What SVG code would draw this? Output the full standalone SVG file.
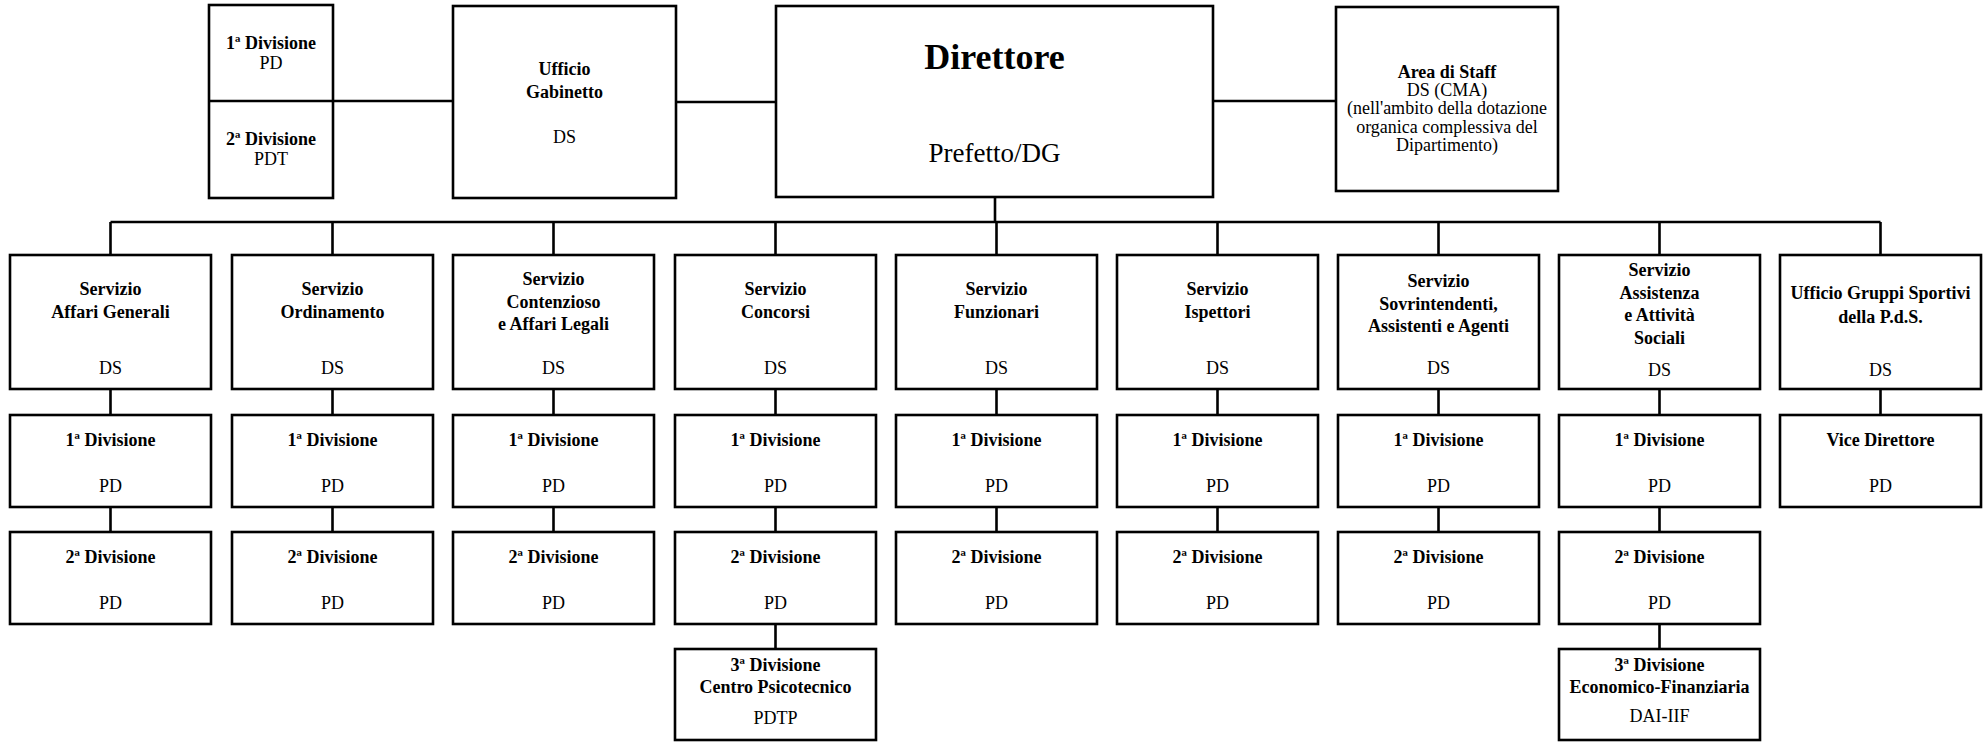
<svg xmlns="http://www.w3.org/2000/svg" width="1987" height="742" viewBox="0 0 1987 742">
<style>
.box{fill:#fff;stroke:#000;stroke-width:2.6}
.ln{stroke:#000;stroke-width:2.6;fill:none}
text{font-family:'Liberation Serif','DejaVu Serif',serif;fill:#000;text-anchor:middle}
.b{font-weight:bold;font-size:18px}
.r{font-size:18px}
</style>
<rect width="1987" height="742" fill="#fff"/>
<g id="connectors">
<path class="ln" d="M333 101H453M676 102H776M1213 101H1336"/>
<path class="ln" d="M995 197V222M110.5 222H1880.5"/>
<path class="ln" d="M110.5 222V255M332.5 222V255M553.5 222V255M775.5 222V255M996.5 222V255M1217.5 222V255M1438.5 222V255M1659.5 222V255M1880.5 222V255"/>
<path class="ln" d="M110.5 389V415M332.5 389V415M553.5 389V415M775.5 389V415M996.5 389V415M1217.5 389V415M1438.5 389V415M1659.5 389V415M1880.5 389V415"/>
<path class="ln" d="M110.5 507V532M332.5 507V532M553.5 507V532M775.5 507V532M996.5 507V532M1217.5 507V532M1438.5 507V532M1659.5 507V532"/>
<path class="ln" d="M775.5 624V649M1659.5 624V649"/>
</g>
<g id="top-divisioni">
<rect class="box" x="209" y="5" width="124" height="193"/>
<line class="ln" x1="209" y1="101" x2="333" y2="101"/>
<text class="b" x="271" y="49" font-family="Liberation Serif">1ª Divisione</text>
<text class="r" x="271" y="69">PD</text>
<text class="b" x="271" y="145">2ª Divisione</text>
<text class="r" x="271" y="165">PDT</text>
</g>
<g id="ufficio-gabinetto">
<rect class="box" x="453" y="6" width="223" height="192"/>
<text class="b" x="564.5" y="75">Ufficio</text>
<text class="b" x="564.5" y="98">Gabinetto</text>
<text class="r" x="564.5" y="143">DS</text>
</g>
<g id="direttore">
<rect class="box" x="776" y="6" width="437" height="191"/>
<text x="994.5" y="69" style="font-weight:bold;font-size:36px">Direttore</text>
<text x="994.5" y="162" style="font-size:27px">Prefetto/DG</text>
</g>
<g id="area-staff">
<rect class="box" x="1336" y="7" width="222" height="184"/>
<text class="b" x="1447" y="78">Area di Staff</text>
<text class="r" x="1447" y="96">DS (CMA)</text>
<text class="r" x="1447" y="114">(nell'ambito della dotazione</text>
<text class="r" x="1447" y="133">organica complessiva del</text>
<text class="r" x="1447" y="151">Dipartimento)</text>
</g>
<g id="servizio-affari-generali">
<rect class="box" x="10" y="255" width="201" height="134"/>
<text class="b" x="110.5" y="295">Servizio</text>
<text class="b" x="110.5" y="318">Affari Generali</text>
<text class="r" x="110.5" y="374">DS</text>
</g>
<g id="servizio-ordinamento">
<rect class="box" x="232" y="255" width="201" height="134"/>
<text class="b" x="332.5" y="295">Servizio</text>
<text class="b" x="332.5" y="318">Ordinamento</text>
<text class="r" x="332.5" y="374">DS</text>
</g>
<g id="servizio-contenzioso">
<rect class="box" x="453" y="255" width="201" height="134"/>
<text class="b" x="553.5" y="285">Servizio</text>
<text class="b" x="553.5" y="308">Contenzioso</text>
<text class="b" x="553.5" y="330">e Affari Legali</text>
<text class="r" x="553.5" y="374">DS</text>
</g>
<g id="servizio-concorsi">
<rect class="box" x="675" y="255" width="201" height="134"/>
<text class="b" x="775.5" y="295">Servizio</text>
<text class="b" x="775.5" y="318">Concorsi</text>
<text class="r" x="775.5" y="374">DS</text>
</g>
<g id="servizio-funzionari">
<rect class="box" x="896" y="255" width="201" height="134"/>
<text class="b" x="996.5" y="295">Servizio</text>
<text class="b" x="996.5" y="318">Funzionari</text>
<text class="r" x="996.5" y="374">DS</text>
</g>
<g id="servizio-ispettori">
<rect class="box" x="1117" y="255" width="201" height="134"/>
<text class="b" x="1217.5" y="295">Servizio</text>
<text class="b" x="1217.5" y="318">Ispettori</text>
<text class="r" x="1217.5" y="374">DS</text>
</g>
<g id="servizio-sovrintendenti">
<rect class="box" x="1338" y="255" width="201" height="134"/>
<text class="b" x="1438.5" y="287">Servizio</text>
<text class="b" x="1438.5" y="310">Sovrintendenti,</text>
<text class="b" x="1438.5" y="332">Assistenti e Agenti</text>
<text class="r" x="1438.5" y="374">DS</text>
</g>
<g id="servizio-assistenza">
<rect class="box" x="1559" y="255" width="201" height="134"/>
<text class="b" x="1659.5" y="276">Servizio</text>
<text class="b" x="1659.5" y="299">Assistenza</text>
<text class="b" x="1659.5" y="321">e Attività</text>
<text class="b" x="1659.5" y="344">Sociali</text>
<text class="r" x="1659.5" y="376">DS</text>
</g>
<g id="ufficio-gruppi-sportivi">
<rect class="box" x="1780" y="255" width="201" height="134"/>
<text class="b" x="1880.5" y="299">Ufficio Gruppi Sportivi</text>
<text class="b" x="1880.5" y="323">della P.d.S.</text>
<text class="r" x="1880.5" y="376">DS</text>
</g>
<g id="div1-c0"><rect class="box" x="10" y="415" width="201" height="92"/><text class="b" x="110.5" y="446">1ª Divisione</text><text class="r" x="110.5" y="492">PD</text></g>
<g id="div1-c1"><rect class="box" x="232" y="415" width="201" height="92"/><text class="b" x="332.5" y="446">1ª Divisione</text><text class="r" x="332.5" y="492">PD</text></g>
<g id="div1-c2"><rect class="box" x="453" y="415" width="201" height="92"/><text class="b" x="553.5" y="446">1ª Divisione</text><text class="r" x="553.5" y="492">PD</text></g>
<g id="div1-c3"><rect class="box" x="675" y="415" width="201" height="92"/><text class="b" x="775.5" y="446">1ª Divisione</text><text class="r" x="775.5" y="492">PD</text></g>
<g id="div1-c4"><rect class="box" x="896" y="415" width="201" height="92"/><text class="b" x="996.5" y="446">1ª Divisione</text><text class="r" x="996.5" y="492">PD</text></g>
<g id="div1-c5"><rect class="box" x="1117" y="415" width="201" height="92"/><text class="b" x="1217.5" y="446">1ª Divisione</text><text class="r" x="1217.5" y="492">PD</text></g>
<g id="div1-c6"><rect class="box" x="1338" y="415" width="201" height="92"/><text class="b" x="1438.5" y="446">1ª Divisione</text><text class="r" x="1438.5" y="492">PD</text></g>
<g id="div1-c7"><rect class="box" x="1559" y="415" width="201" height="92"/><text class="b" x="1659.5" y="446">1ª Divisione</text><text class="r" x="1659.5" y="492">PD</text></g>
<g id="vice-direttore"><rect class="box" x="1780" y="415" width="201" height="92"/><text class="b" x="1880.5" y="446">Vice Direttore</text><text class="r" x="1880.5" y="492">PD</text></g>
<g id="div2-c0"><rect class="box" x="10" y="532" width="201" height="92"/><text class="b" x="110.5" y="563">2ª Divisione</text><text class="r" x="110.5" y="609">PD</text></g>
<g id="div2-c1"><rect class="box" x="232" y="532" width="201" height="92"/><text class="b" x="332.5" y="563">2ª Divisione</text><text class="r" x="332.5" y="609">PD</text></g>
<g id="div2-c2"><rect class="box" x="453" y="532" width="201" height="92"/><text class="b" x="553.5" y="563">2ª Divisione</text><text class="r" x="553.5" y="609">PD</text></g>
<g id="div2-c3"><rect class="box" x="675" y="532" width="201" height="92"/><text class="b" x="775.5" y="563">2ª Divisione</text><text class="r" x="775.5" y="609">PD</text></g>
<g id="div2-c4"><rect class="box" x="896" y="532" width="201" height="92"/><text class="b" x="996.5" y="563">2ª Divisione</text><text class="r" x="996.5" y="609">PD</text></g>
<g id="div2-c5"><rect class="box" x="1117" y="532" width="201" height="92"/><text class="b" x="1217.5" y="563">2ª Divisione</text><text class="r" x="1217.5" y="609">PD</text></g>
<g id="div2-c6"><rect class="box" x="1338" y="532" width="201" height="92"/><text class="b" x="1438.5" y="563">2ª Divisione</text><text class="r" x="1438.5" y="609">PD</text></g>
<g id="div2-c7"><rect class="box" x="1559" y="532" width="201" height="92"/><text class="b" x="1659.5" y="563">2ª Divisione</text><text class="r" x="1659.5" y="609">PD</text></g>
<g id="div3-concorsi"><rect class="box" x="675" y="649" width="201" height="91"/><text class="b" x="775.5" y="671">3ª Divisione</text><text class="b" x="775.5" y="693">Centro Psicotecnico</text><text class="r" x="775.5" y="724">PDTP</text></g>
<g id="div3-assistenza"><rect class="box" x="1559" y="649" width="201" height="91"/><text class="b" x="1659.5" y="671">3ª Divisione</text><text class="b" x="1659.5" y="693">Economico-Finanziaria</text><text class="r" x="1659.5" y="722">DAI-IIF</text></g>
</svg>
